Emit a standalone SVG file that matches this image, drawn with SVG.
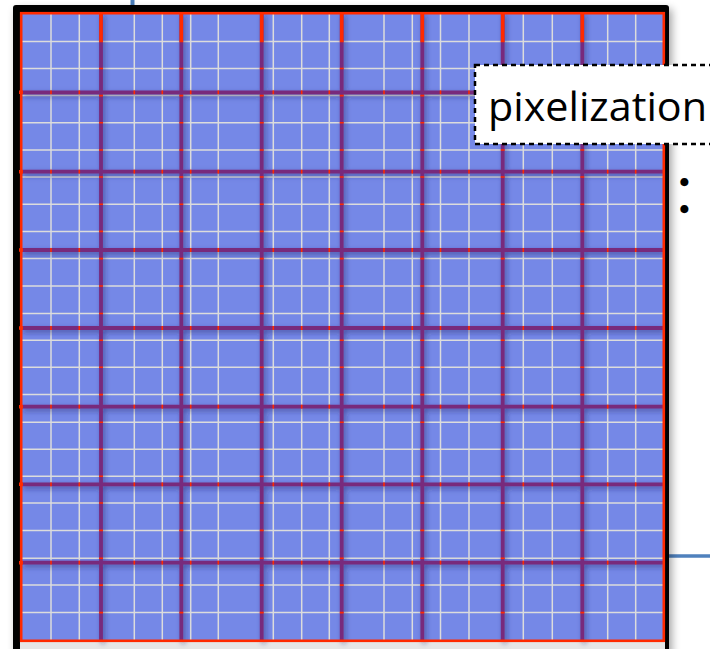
<svg xmlns="http://www.w3.org/2000/svg" width="710" height="649" viewBox="0 0 710 649">
  <style>
    .fine { stroke: #dcdcdc; stroke-width: 1.5; fill: none; }
    .coarse { stroke: #782b7b; stroke-width: 3.8; fill: none; }
    .redmark { stroke: #ff2a00; stroke-width: 1.6; fill: none; }
    .redseg { stroke: #ff2a00; stroke-width: 3.6; fill: none; }
    .label { font-family: "Open Sans", "Liberation Sans", sans-serif; font-size: 41px; fill: #000; }
    .bullet { font-family: "DejaVu Sans", sans-serif; font-size: 23px; font-weight: bold; fill: #000; }
  </style>
  <defs>
    <filter id="sh" filterUnits="userSpaceOnUse" x="0" y="0" width="710" height="649">
      <feDropShadow dx="2" dy="2.5" stdDeviation="2.8" flood-color="#1c1c60" flood-opacity="0.5"/>
    </filter>
    <filter id="frameShadow" filterUnits="userSpaceOnUse" x="0" y="0" width="710" height="649">
      <feGaussianBlur stdDeviation="4"/>
    </filter>
    <path id="fineGrid" d="M51 14V640M79.3 14V640M134.3 14V640M162.3 14V640M190.7 14V640M218.3 14V640M273.3 14V640M301.7 14V640M329.3 14V640M384 14V640M412.3 14V640M440.5 14V640M469 14V640M523.3 14V640M552.3 14V640M607.7 14V640M635.7 14V640
      M22 41.5H663M22 68.5H663M22 95.6H663M22 122.8H663M22 150H663M22 177H663M22 204.3H663M22 231.4H663M22 258.6H663M22 286H663M22 313.5H663M22 340.3H663M22 367.3H663M22 394.6H663M22 422.2H663M22 449.3H663M22 476.2H663M22 503H663M22 530.4H663M22 558.2H663M22 585.1H663M22 612.6H663"/>
    <path id="coarseGrid" d="M101 13V641M181.3 13V641M261.7 13V641M341.7 13V641M422.3 13V641M502.7 13V641M582.3 13V641
      M21 92.3H663M21 171.7H663M21 250H663M21 328H663M21 406.7H663M21 484.3H663M21 562.7H663"/>
    <mask id="coarseMask" maskUnits="userSpaceOnUse" x="0" y="0" width="710" height="649">
      <rect x="0" y="0" width="710" height="649" fill="#000"/>
      <use href="#coarseGrid" stroke="#fff" stroke-width="3.8" fill="none"/>
    </mask>
  </defs>

  <!-- background -->
  <rect x="0" y="0" width="710" height="649" fill="#ffffff"/>

  <!-- small blue connector lines -->
  <g id="connectors">
    <line x1="132.5" y1="0" x2="132.5" y2="6" stroke="#4a7ebb" stroke-width="4"/>
    <line x1="669" y1="556" x2="710" y2="556" stroke="#4f81bd" stroke-width="3.5"/>
  </g>

  <!-- pixel grid -->
  <g id="grid">
    <rect x="16" y="9" width="656" height="660" fill="#000" opacity="0.35" filter="url(#frameShadow)"/>
    <rect x="13" y="5" width="656" height="660" rx="3" fill="#000"/>
    <rect x="20" y="12" width="645" height="650" fill="#e6e6e6"/>
    <rect x="22" y="14" width="641" height="626" fill="#7588e7"/>
    <use href="#fineGrid" class="fine"/>
    <g filter="url(#sh)">
      <use href="#coarseGrid" class="coarse"/>
    </g>
    <use href="#fineGrid" class="redmark" mask="url(#coarseMask)"/>
    <path class="redseg" d="M101 13V41M181.3 13V41M261.7 13V41M341.7 13V41M422.3 13V41M502.7 13V41M582.3 13V41
      M19 92.3H23M19 171.7H23M19 250H23M19 328H23M19 406.7H23M19 484.3H23M19 562.7H23"/>
    <rect x="21.2" y="13.2" width="642.6" height="627.6" fill="none" stroke="#ff2a00" stroke-width="2.6"/>
  </g>

  <!-- label -->
  <g id="label">
    <rect x="475" y="65" width="260" height="79" fill="#ffffff" stroke="#000" stroke-width="2.5" stroke-dasharray="5 4"/>
    <text class="label" x="488" y="121" textLength="219" lengthAdjust="spacingAndGlyphs">pixelization</text>
  </g>

  <!-- bullets -->
  <g id="bullets">
    <text class="bullet"><tspan x="677" y="191">•</tspan><tspan x="677" y="218">•</tspan></text>
  </g>
</svg>
